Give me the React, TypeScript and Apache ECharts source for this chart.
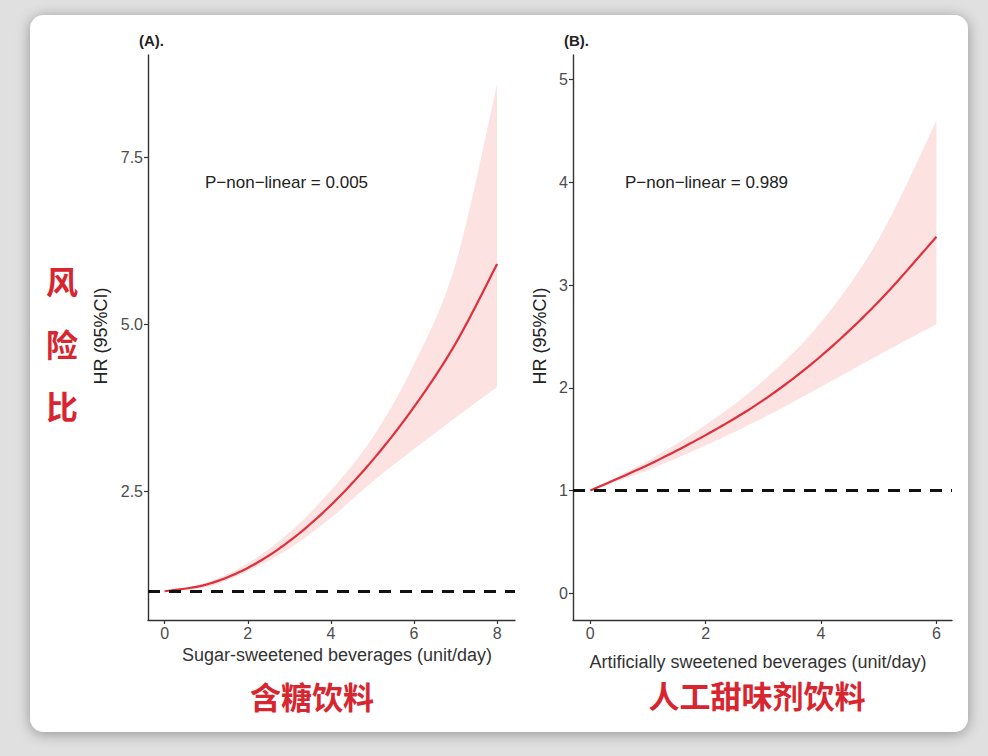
import React, { useEffect, useRef } from "react";
import * as echarts from "echarts";

// Panel A: sugar-sweetened beverages
const sugarX = [0, 1, 2, 3, 4, 5, 6, 7, 8];
const sugarHR = [1.0, 1.1, 1.35, 1.75, 2.29, 2.96, 3.76, 4.71, 5.9];
const sugarLower = [1.0, 1.06, 1.3, 1.64, 2.1, 2.64, 3.13, 3.6, 4.06];
const sugarUpper = [1.0, 1.13, 1.42, 1.88, 2.51, 3.3, 4.4, 5.9, 8.6];
const sugarXTicks = [0, 2, 4, 6, 8];
const sugarYTicks = [2.5, 5.0, 7.5];

// Panel B: artificially sweetened beverages
const artX = [0, 1, 2, 3, 4, 5, 6];
const artHR = [1.0, 1.25, 1.54, 1.88, 2.31, 2.84, 3.47];
const artLower = [1.0, 1.2, 1.44, 1.71, 2.01, 2.32, 2.62];
const artUpper = [1.0, 1.29, 1.64, 2.07, 2.64, 3.45, 4.6];
const artXTicks = [0, 2, 4, 6];
const artYTicks = [0, 1, 2, 3, 4, 5];

const refLine = 1;

const LATIN = "'Liberation Sans', Arial, sans-serif";
const CJK = "'Noto Sans CJK SC', sans-serif";
const RED = "#df2f3b";
const BAND = "#fde2e2";
const CN_RED = "#d7262f";

// Catmull-Rom sampling in pixel space (rendering only)
function smoothPath(p: number[][], steps = 14) {
  const out: number[][] = [];
  for (let i = 0; i < p.length - 1; i++) {
    const p0 = p[Math.max(0, i - 1)];
    const p1 = p[i];
    const p2 = p[i + 1];
    const p3 = p[Math.min(p.length - 1, i + 2)];
    for (let s = 0; s < steps; s++) {
      const t = s / steps;
      const t2 = t * t;
      const t3 = t2 * t;
      const f = (a: number, b: number, c: number, d: number) =>
        0.5 * (2 * b + (-a + c) * t + (2 * a - 5 * b + 4 * c - d) * t2 + (-a + 3 * b - 3 * c + d) * t3);
      out.push([f(p0[0], p1[0], p2[0], p3[0]), f(p0[1], p1[1], p2[1], p3[1])]);
    }
  }
  out.push(p[p.length - 1]);
  return out;
}

function bandSeries(idx: number, xs: number[], lo: number[], up: number[]) {
  return {
    type: "custom",
    xAxisIndex: idx,
    yAxisIndex: idx,
    data: [[xs[0], lo[0]]],
    silent: true,
    z: 1,
    renderItem: (_params: any, api: any) => {
      const upPts = xs.map((x, i) => api.coord([x, up[i]]));
      const loPts = xs.map((x, i) => api.coord([x, lo[i]]));
      const pts = smoothPath(upPts).concat(smoothPath(loPts).reverse());
      return { type: "polygon", shape: { points: pts }, style: { fill: BAND } };
    },
  };
}

function curveSeries(idx: number, xs: number[], hr: number[]) {
  return {
    type: "custom",
    xAxisIndex: idx,
    yAxisIndex: idx,
    data: [[xs[0], hr[0]]],
    silent: true,
    z: 3,
    renderItem: (_params: any, api: any) => {
      const pts = smoothPath(xs.map((x, i) => api.coord([x, hr[i]])));
      return {
        type: "polyline",
        shape: { points: pts },
        style: { stroke: RED, lineWidth: 2.2, fill: "none", lineJoin: "round" },
      };
    },
  };
}

function refLineSeries(idx: number) {
  return {
    type: "line",
    xAxisIndex: idx,
    yAxisIndex: idx,
    data: [],
    symbol: "none",
    z: 5,
    markLine: {
      silent: true,
      symbol: ["none", "none"],
      label: { show: false },
      lineStyle: { color: "#111", width: 2.8, type: [12, 9] },
      data: [{ yAxis: refLine }],
      z: 5,
    },
  };
}

function txt(text: string, x: number, y: number, opts: any = {}) {
  return {
    type: "text",
    x,
    y,
    z: 100,
    rotation: opts.rotation || 0,
    style: {
      text,
      fill: opts.fill || "#222",
      font: opts.font || `17px ${LATIN}`,
      textAlign: opts.align || "left",
      textVerticalAlign: "middle",
    },
  };
}

function axisOpt(grid: number, min: number, max: number, ticks: number[], label: any) {
  return {
    type: "value",
    gridIndex: grid,
    min,
    max,
    splitLine: { show: false },
    axisLine: { show: true, onZero: false, lineStyle: { color: "#333", width: 1.4 } },
    axisTick: { show: true, length: 4, customValues: ticks, lineStyle: { color: "#333", width: 1.2 } },
    axisLabel: { ...label, customValues: ticks },
  };
}

export default function App() {
  const ref = useRef<HTMLDivElement>(null);
  useEffect(() => {
    if (!ref.current) return;
    const chart = echarts.init(ref.current, null, { renderer: "svg" });
    const labelStyle = { color: "#4d4d4d", fontSize: 16, fontFamily: LATIN, margin: 5 };
    const option: any = {
      animation: false,
      backgroundColor: "#e0e0e0",
      grid: [
        { left: 148, top: 55, width: 367, height: 565 },
        { left: 573, top: 55, width: 379, height: 565 },
      ],
      xAxis: [
        axisOpt(0, -0.4, 8.43, sugarXTicks, labelStyle),
        axisOpt(1, -0.3, 6.27, artXTicks, labelStyle),
      ],
      yAxis: [
        axisOpt(0, 0.57, 9.03, sugarYTicks, {
          ...labelStyle,
          formatter: (v: number) => v.toFixed(1),
        }),
        axisOpt(1, -0.26, 5.24, artYTicks, labelStyle),
      ],
      series: [
        bandSeries(0, sugarX, sugarLower, sugarUpper),
        curveSeries(0, sugarX, sugarHR),
        refLineSeries(0),
        bandSeries(1, artX, artLower, artUpper),
        curveSeries(1, artX, artHR),
        refLineSeries(1),
      ],
      graphic: [
        {
          type: "rect",
          z: -100,
          shape: { x: 30, y: 15, width: 938, height: 717, r: 14 },
          style: { fill: "#ffffff", shadowBlur: 14, shadowColor: "rgba(0,0,0,0.35)", shadowOffsetY: 2 },
        },
        txt("(A).", 139, 40, { font: `bold 15px ${LATIN}` }),
        txt("(B).", 564, 40, { font: `bold 15px ${LATIN}` }),
        txt("P\u2212non\u2212linear = 0.005", 205, 182),
        txt("P\u2212non\u2212linear = 0.989", 625, 182),
        txt("Sugar-sweetened beverages (unit/day)", 337, 655, { align: "center", fill: "#333", font: `18px ${LATIN}` }),
        txt("Artificially sweetened beverages (unit/day)", 758, 662, { align: "center", fill: "#333", font: `18px ${LATIN}` }),
        txt("HR (95%CI)", 101, 336, { align: "center", rotation: Math.PI / 2, fill: "#222", font: `18px ${LATIN}` }),
        txt("HR (95%CI)", 540, 336, { align: "center", rotation: Math.PI / 2, fill: "#222", font: `18px ${LATIN}` }),
        txt("含糖饮料", 312, 695, { align: "center", fill: CN_RED, font: `bold 31px ${CJK}` }),
        txt("人工甜味剂饮料", 757, 694, { align: "center", fill: CN_RED, font: `bold 31px ${CJK}` }),
        txt("风", 62, 280, { align: "center", fill: CN_RED, font: `bold 32px ${CJK}` }),
        txt("险", 62, 343, { align: "center", fill: CN_RED, font: `bold 32px ${CJK}` }),
        txt("比", 62, 405, { align: "center", fill: CN_RED, font: `bold 32px ${CJK}` }),
      ],
    };
    chart.setOption(option);
    return () => chart.dispose();
  }, []);
  return (
    <div
      ref={ref}
      style={{ position: "absolute", left: 0, top: 0, width: 988, height: 756 }}
    />
  );
}
